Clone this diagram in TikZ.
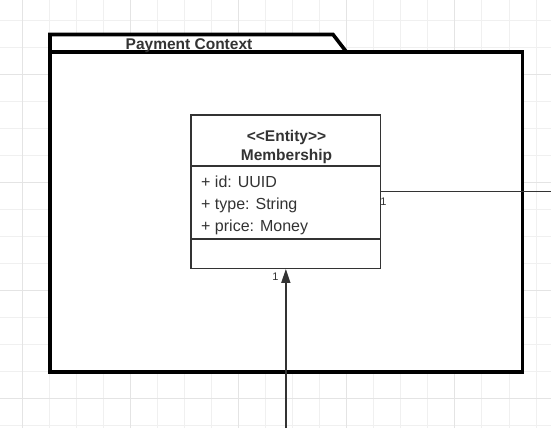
\documentclass[tikz,border=0pt]{standalone}
\usepackage{fontspec}
\setmainfont{Liberation Sans}
\usetikzlibrary{arrows.meta}
\definecolor{gridminor}{HTML}{F0F0F0}
\definecolor{gridmajor}{HTML}{E4E4E4}
\definecolor{ink}{HTML}{333333}
\begin{document}
\begin{tikzpicture}[x=1pt,y=-1pt,
  pkgline/.style={line width=3.6pt, draw=black, fill=white, line join=miter},
  classbox/.style={draw=ink, line width=1.3pt, fill=white, rectangle, inner sep=0pt, minimum width=189.7pt, minimum height=153.3pt},
  titletext/.style={font=\bfseries\fontsize{15.5}{18}\selectfont, text=ink, anchor=base, inner sep=0pt},
  attrtext/.style={font=\fontsize{16}{19}\selectfont, text=ink, anchor=base west, inner sep=0pt},
  multtext/.style={font=\fontsize{11}{13}\selectfont, text=ink, anchor=base, inner sep=0pt},
  conn/.style={draw=ink, line width=1.5pt},
  divider/.style={draw=ink, line width=1.3pt},
]
\useasboundingbox (0,0) rectangle (551,428);
\fill[white] (0,0) rectangle (551,428);
% grid
\foreach \i in {0,...,20} {
  \draw[gridminor, line width=1pt] ({22.3+27.04*\i},0) -- ++(0,428);
}
\foreach \i in {0,...,15} {
  \draw[gridminor, line width=1pt] (0,{20.3+27.04*\i}) -- ++(551,0);
}
\foreach \i in {0,...,4} {
  \draw[gridmajor, line width=1pt] ({22.3+108.16*\i},0) -- ++(0,428);
}
\foreach \i in {0,...,3} {
  \draw[gridmajor, line width=1pt] (0,{74.4+108.16*\i}) -- ++(551,0);
}
% package
\draw[pkgline] (50,52) -- (50,34.5) -- (333,34.5) -- (346.5,52) -- cycle;
\draw[pkgline] (50,52) rectangle (522.3,371.7);
\node[titletext] (pkgtitle) at (189,49) {Payment Context};
% class
\node[classbox] (cls) at (285.85,191.65) {};
\draw[divider] (cls.west |- {(0,166)}) -- (cls.east |- {(0,166)});
\draw[divider] (cls.west |- {(0,239)}) -- (cls.east |- {(0,239)});
\node[titletext] (stereo) at (286.5,141.7) {<{}<Entity>{}>};
\node[titletext] (cname) at (286.5,160) {Membership};
\node[attrtext] (a1) at (201,187) {+ id: UUID};
\node[attrtext] (a2) at (201,209) {+ type: String};
\node[attrtext] (a3) at (201,231) {+ price: Money};
% connectors
\coordinate (rightend) at (551,191.65);
\coordinate (bottomend) at (285.85,428);
\draw[conn] (cls.east) -- (rightend);
\draw[conn, -{Triangle[length=14pt,width=9pt]}] (bottomend) -- (cls.south);
\node[multtext] (m1) at (383.5,205) {1};
\node[multtext] (m2) at (275.5,280) {1};
\end{tikzpicture}
\end{document}
